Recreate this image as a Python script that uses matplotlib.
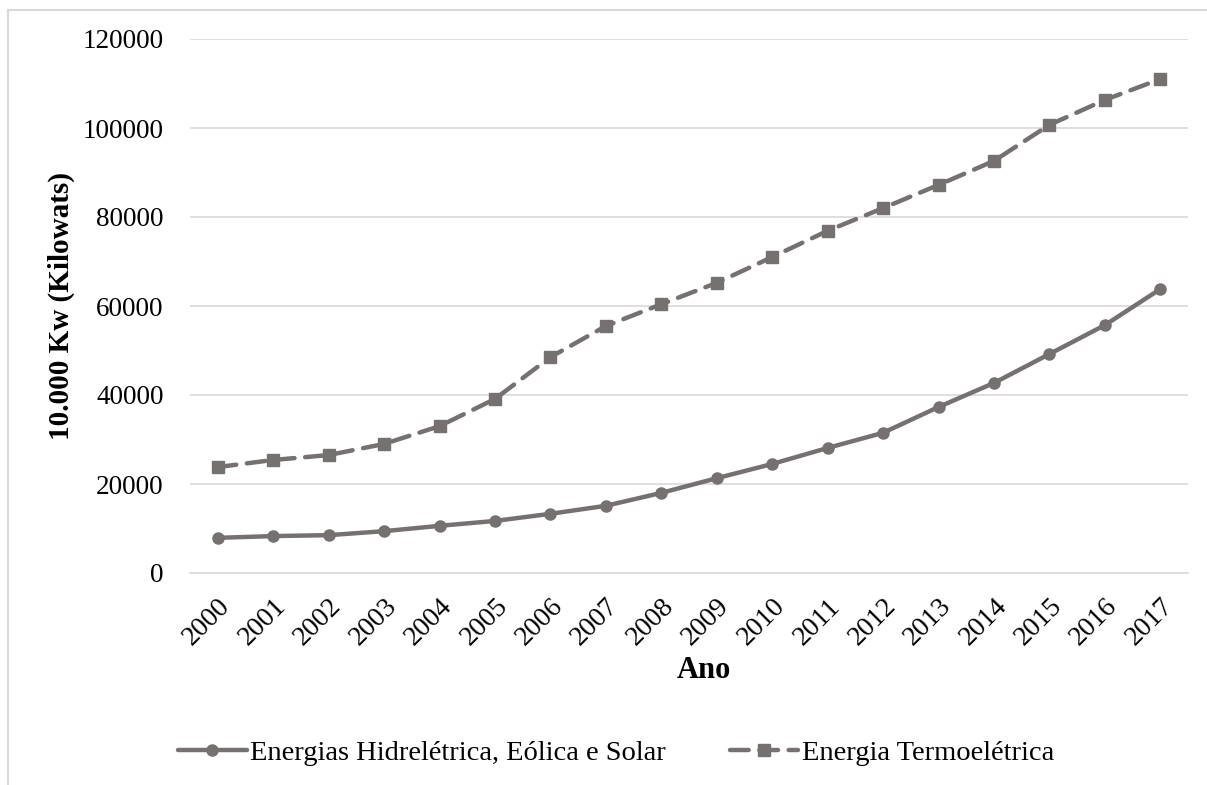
import numpy as np
import matplotlib.pyplot as plt
import matplotlib.transforms as mtransforms
from matplotlib.lines import Line2D

# data
anos = ['2000', '2001', '2002', '2003', '2004', '2005', '2006', '2007', '2008',
        '2009', '2010', '2011', '2012', '2013', '2014', '2015', '2016', '2017']
hidro_eolica_solar = [7900, 8300, 8500, 9400, 10600, 11700, 13300, 15100, 18000,
                      21300, 24500, 28100, 31500, 37300, 42700, 49200, 55700, 63800]
termoeletrica = [23800, 25400, 26500, 29000, 33000, 39100, 48500, 55500, 60400,
                 65200, 71000, 76900, 82000, 87200, 92600, 100700, 106300, 111000]
yticks = [0, 20000, 40000, 60000, 80000, 100000, 120000]

plt.rcParams['font.family'] = 'Liberation Serif'
cor = '#767171'
grade = '#d9d9d9'
fs = 19.5

fig = plt.figure(figsize=(12.07, 7.85), dpi=100)
W, H = 1207, 785
ax = fig.add_axes([190 / W, 1 - 573 / H, (1188 - 190) / W, (573 - 39) / H])

x = np.arange(len(anos))
ax.plot(x, hidro_eolica_solar, color=cor, lw=3.2, marker='o', ms=8,
        label='Energias Hidrelétrica, Eólica e Solar', solid_capstyle='round')
ax.plot(x, termoeletrica, color=cor, lw=3.2, marker='s', ms=9, ls=(0, (4.2, 2.4)),
        dash_capstyle='round', label='Energia Termoelétrica')

ax.set_xlim(-0.5, len(anos) - 0.5)
ax.set_ylim(0, 120000)
ax.set_yticks(yticks)
ax.set_yticklabels([str(v) for v in yticks], fontsize=fs)
ax.set_xticks(x)
ax.set_xticklabels(anos, fontsize=fs + 0.5, rotation=45, ha='right',
                   rotation_mode='anchor')
shift = mtransforms.ScaledTranslation(1 / 100, 0, fig.dpi_scale_trans)
for lbl in ax.get_xticklabels():
    lbl.set_transform(lbl.get_transform() + shift)
ax.tick_params(axis='both', length=0)
ax.tick_params(axis='y', pad=19)
ax.tick_params(axis='x', pad=15)
ax.grid(axis='y', color=grade, lw=1.2)
ax.set_axisbelow(True)
for s in ['top', 'right', 'left']:
    ax.spines[s].set_visible(False)
ax.spines['bottom'].set_color(grade)
ax.spines['bottom'].set_linewidth(1.2)

ax.set_ylabel('10.000 Kw (Kilowats)', fontsize=21, fontweight='bold')
ax.yaxis.set_label_coords((75 - 190) / (1188 - 190), 0.5)
fig.text(704 / W, 1 - 670 / H, 'Ano', fontsize=22, fontweight='bold',
         ha='center', va='center')

fig.legend(loc='center', bbox_to_anchor=(616 / W, 1 - 753 / H), ncol=2,
           frameon=False, fontsize=20.5, handlelength=2.4, handletextpad=0.12,
           columnspacing=2.25)

# chart border (only top and left visible in the reference)
fig.add_artist(Line2D([8 / W, 1], [1 - 10 / H, 1 - 10 / H], color=grade, lw=1.5))
fig.add_artist(Line2D([8 / W, 8 / W], [0, 1 - 10 / H], color=grade, lw=1.5))

fig.savefig('out.png', dpi=100)
